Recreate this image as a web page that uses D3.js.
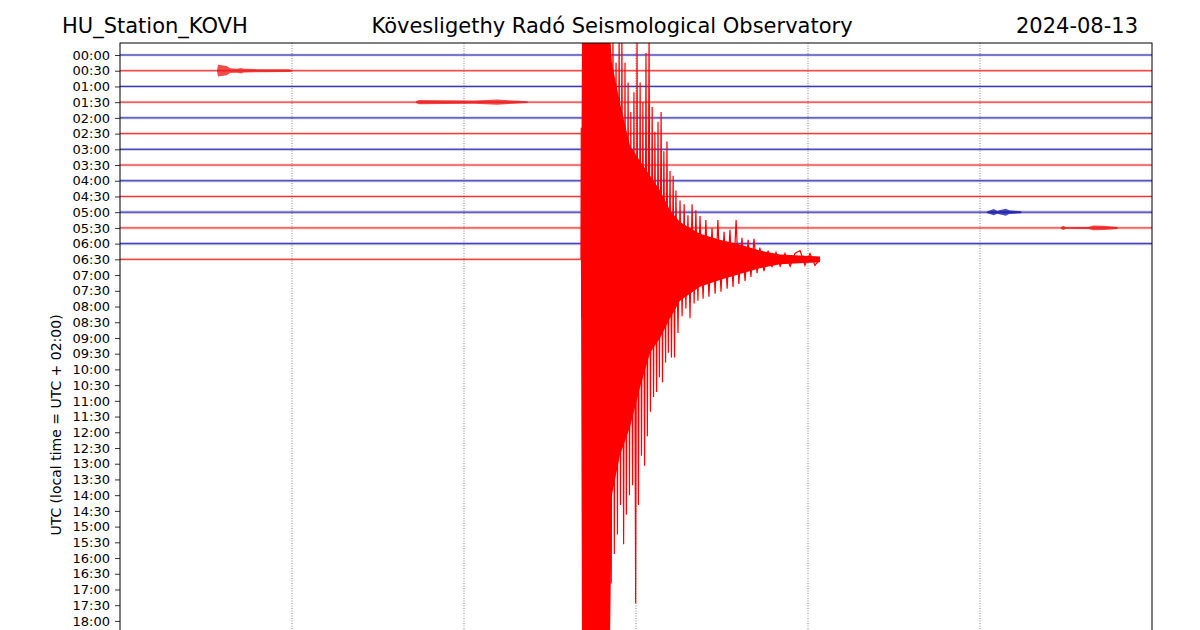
<!DOCTYPE html>
<html>
<head>
<meta charset="utf-8">
<script src="https://cdn.jsdelivr.net/npm/d3@7"></script>
<style>
  body { margin: 0; background: #fff; }
  text { font-family: "DejaVu Sans", sans-serif; }
</style>
</head>
<body>
<div id="chart"></div>
<script>
// row (tick) labels, one per 30 minute line
const rowLabels = ["00:00","00:30","01:00","01:30","02:00","02:30","03:00","03:30",
  "04:00","04:30","05:00","05:30","06:00","06:30","07:00","07:30",
  "08:00","08:30","09:00","09:30","10:00","10:30","11:00","11:30",
  "12:00","12:30","13:00","13:30","14:00","14:30","15:00","15:30",
  "16:00","16:30","17:00","17:30","18:00","18:30","19:00","19:30",
  "20:00","20:30","21:00","21:30","22:00","22:30","23:00","23:30"];

// recorded rows: end minute within the row and background noise level (counts)
const rowEnds  = [30, 30, 30, 30, 30, 30, 30, 30, 30, 30, 30, 30, 30, 20.35];
const rowNoise = [1.3, 1.3, 1.3, 1.3, 1.4, 1.3, 1.4, 1.3, 1.5, 1.3, 1.6, 1.4, 1.6, 1.3];

// minute gridlines
const gridMinutes = [5, 10, 15, 20, 25];

// small local events: row index, [minute, amplitude counts] envelope
const burstRows = [1, 3, 10, 11];
const burstEnvelopes = [
  [[2.82,0.8],[2.85,6],[3.1,4.7],[3.2,2.4],[3.4,2],[3.52,2.8],[3.6,1.9],[4.0,1.6],[4.9,1.4],[5.0,0.8]],
  [[8.6,0.8],[8.7,2.2],[9.5,1.9],[10.3,1.6],[10.96,2.7],[11.3,1.9],[11.85,0.8]],
  [[25.2,0.8],[25.4,3.2],[25.5,1.6],[25.75,3.5],[25.85,1.9],[26.2,1]],
  [[27.35,0.8],[27.42,2.1],[27.5,0.8],[28.15,1],[28.3,2.4],[28.6,2.1],[29.0,1]]
];

// main earthquake in the 06:30 row (amplitudes in counts)
const eventRow = 13;
const eventEnvTimes = [13.40, 13.43, 14.24, 14.30, 14.53, 14.83, 15.12, 15.41, 15.70, 15.99, 16.28, 16.57, 16.86, 17.44, 18.02, 18.60, 19.19, 19.77, 20.35];
const eventEnvUpper = [0, 230, 230, 200, 160, 115, 100, 85, 70, 50, 38, 32, 26, 20, 15, 9, 5, 4, 3];
const eventEnvLower = [0, 400, 400, 240, 200, 170, 130, 95, 80, 60, 42, 35, 28, 21, 15, 9, 5, 4, 3];

const eventSpikeTimes = [13.40, 13.41, 13.42,
  14.24, 14.28, 14.33, 14.37, 14.42, 14.46, 14.51, 14.55, 14.59, 14.64, 14.68, 14.72, 14.77, 14.81, 14.85, 14.90,
  14.94, 14.99, 15.03, 15.07, 15.12, 15.16, 15.20, 15.25, 15.29, 15.33, 15.38, 15.42, 15.47, 15.51, 15.55, 15.60,
  15.64, 15.68, 15.73, 15.77, 15.81, 15.86, 15.90, 15.94, 15.99, 16.03, 16.08, 16.12, 16.16, 16.22, 16.28, 16.34,
  16.40, 16.45, 16.51, 16.57, 16.63, 16.69, 16.74, 16.80, 16.86, 16.95, 17.03, 17.12, 17.21, 17.30, 17.38, 17.47,
  17.56, 17.65, 17.73, 17.82, 17.91, 17.99, 18.08, 18.17, 18.26, 18.34, 18.43, 18.52, 18.60, 18.72, 18.84, 18.95,
  19.07, 19.19, 19.33, 19.48, 19.62, 19.77, 19.91, 20.06, 20.20, 20.35];
const eventSpikeAmps = [0, 134, -60,
  230, -330, 230, -300, 200, -280, 230, -250, 230, -290, 200, -260, 180, -240, 150, -230,
  170, -350, 230, -250, 180, -200, 160, -210, 210, -180, 230, -155, 155, -140, 130, -135,
  140, -120, 150, -125, 110, -105, 120, -95, 90, -100, 85, -100, 70, -75, 60, -58,
  56, -50, 45, -60, 56, -45, 50, -42, 44, -40, 40, -38, 32, -35, 40, -33,
  28, -30, 30, -28, 40, -25, 22, -22, 20, -18, 21, -14, 12, -12, 9, -8,
  7, -7, 6, -7, 6, 9, -6, 6, -6, 0];

// dimensions
const width = 1200, height = 630;
const plot = { left: 120, right: 1152, top: 43, bottom: 822 };
const colors = ["#1212a8", "#ee1111"];
const countsPerRow = 16;

const x = d3.scaleLinear().domain([0, 30]).range([plot.left, plot.right]);
const y = d3.scaleLinear().domain([0, rowLabels.length - 1]).range([55, 55 + (rowLabels.length - 1) * 15.72]);
const amp = d3.scaleLinear().domain([0, countsPerRow]).range([0, y(1) - y(0)]);

const svg = d3.select("#chart").append("svg").attr("width", width).attr("height", height);

svg.append("clipPath").attr("id", "plotClip")
  .append("rect")
  .attr("x", plot.left).attr("y", plot.top)
  .attr("width", plot.right - plot.left).attr("height", plot.bottom - plot.top);

// titles
svg.append("text").attr("x", 62).attr("y", 33).attr("font-size", 21).text("HU_Station_KOVH");
svg.append("text").attr("x", 612).attr("y", 33).attr("font-size", 21).attr("text-anchor", "middle")
  .text("Kövesligethy Radó Seismological Observatory");
svg.append("text").attr("x", 1138).attr("y", 33).attr("font-size", 21).attr("text-anchor", "end").text("2024-08-13");

// y axis (only the rows that fit in the window)
const yAxis = d3.axisLeft(y)
  .tickValues(d3.range(rowLabels.length).filter(i => y(i) < height - 6))
  .tickFormat(i => rowLabels[i])
  .tickSize(5).tickPadding(5);

const axisG = svg.append("g").attr("transform", `translate(${plot.left},0)`).call(yAxis);
axisG.select(".domain").remove();
axisG.selectAll("text").attr("font-size", 13).attr("font-family", "DejaVu Sans, sans-serif").attr("fill", "#000");
axisG.selectAll("line").attr("stroke", "#000").attr("stroke-width", 0.8);

svg.append("text")
  .attr("transform", `translate(61,425) rotate(-90)`)
  .attr("text-anchor", "middle").attr("font-size", 14)
  .text("UTC (local time = UTC + 02:00)");

const chartG = svg.append("g").attr("clip-path", "url(#plotClip)");

// gridlines
chartG.selectAll("line.grid")
  .data(gridMinutes)
  .join("line")
  .attr("class", "grid")
  .attr("x1", d => x(d)).attr("x2", d => x(d))
  .attr("y1", plot.top).attr("y2", plot.bottom)
  .attr("stroke", "#333").attr("stroke-width", 0.6)
  .attr("stroke-dasharray", "1,1.5");

// traces: noise band + centre line
const rows = rowEnds.map((end, i) => ({ i, end, noise: rowNoise[i], color: colors[i % 2] }));

chartG.selectAll("rect.band")
  .data(rows)
  .join("rect")
  .attr("class", "band")
  .attr("x", x(0))
  .attr("width", d => x(d.end) - x(0))
  .attr("y", d => y(d.i) - amp(d.noise))
  .attr("height", d => 2 * amp(d.noise))
  .attr("fill", d => d.color)
  .attr("opacity", 0.28);

chartG.selectAll("line.trace")
  .data(rows)
  .join("line")
  .attr("class", "trace")
  .attr("x1", x(0)).attr("x2", d => x(d.end))
  .attr("y1", d => y(d.i)).attr("y2", d => y(d.i))
  .attr("stroke", d => d.color)
  .attr("stroke-width", 0.9)
  .attr("opacity", 0.9);

// small events
const burstArea = row => d3.area()
  .x(d => x(d[0]))
  .y0(d => y(row) + amp(d[1]))
  .y1(d => y(row) - amp(d[1]));

burstRows.forEach((row, k) => {
  chartG.append("path")
    .attr("d", burstArea(row)(burstEnvelopes[k]))
    .attr("fill", colors[row % 2])
    .attr("opacity", 0.75);
});

// main event peaks
const spikeData = eventSpikeTimes.map((t, k) => ({ t, a: eventSpikeAmps[k] }));
chartG.append("path")
  .attr("d", d3.line()
    .x(d => x(d.t))
    .y(d => y(eventRow) - amp(d.a))(spikeData))
  .attr("fill", "none")
  .attr("stroke", "#ff0000")
  .attr("stroke-width", 1.2);

// main event envelope (drawn over the peaks)
const envData = eventEnvTimes.map((t, k) => ({ t, up: eventEnvUpper[k], down: eventEnvLower[k] }));
chartG.append("path")
  .attr("d", d3.area()
    .x(d => x(d.t))
    .y0(d => y(eventRow) + amp(d.down))
    .y1(d => y(eventRow) - amp(d.up))(envData))
  .attr("fill", "#ff0000");

// frame
svg.append("rect")
  .attr("x", plot.left).attr("y", plot.top)
  .attr("width", plot.right - plot.left).attr("height", plot.bottom - plot.top)
  .attr("fill", "none").attr("stroke", "#000").attr("stroke-width", 1);
</script>
</body>
</html>
